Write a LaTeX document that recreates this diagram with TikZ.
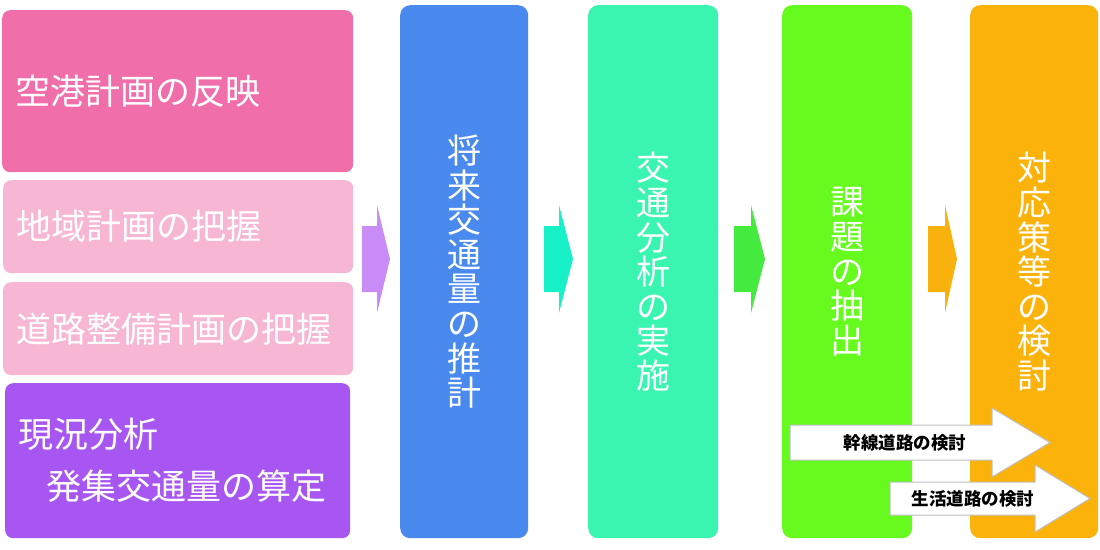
\documentclass[tikz,border=0pt]{standalone}
\usepackage{fontspec}
\setmainfont{Noto Sans CJK JP}

\definecolor{airpink}{HTML}{F06EAA}
\definecolor{softpink}{HTML}{F7B6D3}
\definecolor{nowpurple}{HTML}{A856F1}
\definecolor{chevpurple}{HTML}{C98BF6}
\definecolor{estblue}{HTML}{4A89EE}
\definecolor{chevteal}{HTML}{18F0C8}
\definecolor{anateal}{HTML}{3AF5B0}
\definecolor{chevgreen}{HTML}{44EB3E}
\definecolor{issgreen}{HTML}{67FA1F}
\definecolor{chevorange}{HTML}{F9B10E}
\definecolor{measorange}{HTML}{FBB30C}

\tikzset{
  leftbox/.style={rounded corners=8pt, text=white, anchor=north west,
    inner xsep=13pt, align=left, font=\fontsize{35}{52}\selectfont},
  colbox/.style={rounded corners=10pt, text=white, anchor=north west,
    minimum height=533pt, align=center, font=\fontsize{34}{34.6}\selectfont},
  chevron/.style={draw=none},
  roadarrow/.style={fill=white, draw=black!25, line width=1pt},
  roadlabel/.style={font=\fontsize{17.5}{20}\selectfont\bfseries, text=black}
}

\begin{document}
\begin{tikzpicture}[x=1pt, y=-1pt]
  \useasboundingbox (0,0) rectangle (1100,549);

  % left hand inputs
  \node[leftbox, fill=airpink, minimum width=351pt, text width=325pt,
    minimum height=162pt] (airport) at (2,10) {空港計画の反映};
  \node[leftbox, fill=softpink, minimum width=350pt, text width=324pt,
    minimum height=93pt] (region) at (3,180) {地域計画の把握};
  \node[leftbox, fill=softpink, minimum width=350pt, text width=324pt,
    minimum height=93pt] (roadplan) at (3,282) {道路整備計画の把握};
  \node[leftbox, fill=nowpurple, minimum width=345pt, text width=319pt,
    minimum height=155pt] (present) at (5,383)
    {現況分析\\\hspace*{28pt}発集交通量の算定};

  % steps
  \node[colbox, fill=estblue, minimum width=128pt] (future) at (400,5)
    {将\\来\\交\\通\\量\\の\\推\\計};
  \node[colbox, fill=anateal, minimum width=130pt] (analysis) at (588,5)
    {交\\通\\分\\析\\の\\実\\施};
  \node[colbox, fill=issgreen, minimum width=130pt] (issues) at (782,5)
    {課\\題\\の\\抽\\出};
  \node[colbox, fill=measorange, minimum width=128pt] (measures) at (970,5)
    {対\\応\\策\\等\\の\\検\\討};

  % chevrons between steps
  \fill[chevron, chevpurple] (362,226) -- (377,226) -- (377,205) -- (390,259)
    -- (377,313) -- (377,292) -- (362,292) -- cycle;
  \fill[chevron, chevteal] (544,226) -- (559,226) -- (559,205) -- (573,259)
    -- (559,313) -- (559,292) -- (544,292) -- cycle;
  \fill[chevron, chevgreen] (734,226) -- (751,226) -- (751,205) -- (765,259)
    -- (751,313) -- (751,292) -- (734,292) -- cycle;
  \fill[chevron, chevorange] (928,226) -- (945,226) -- (945,205) -- (957,259)
    -- (945,313) -- (945,292) -- (928,292) -- cycle;

  % road studies
  \draw[roadarrow] (790,425) -- (992,425) -- (992,408) -- (1050,442.5)
    -- (992,477) -- (992,460) -- (790,460) -- cycle;
  \node[roadlabel] (trunk) at (905,442.5) {幹線道路の検討};
  \draw[roadarrow] (890,482) -- (1035,482) -- (1035,465) -- (1090,498.5)
    -- (1035,532) -- (1035,515) -- (890,515) -- cycle;
  \node[roadlabel] (local) at (973,498.5) {生活道路の検討};
\end{tikzpicture}
\end{document}
